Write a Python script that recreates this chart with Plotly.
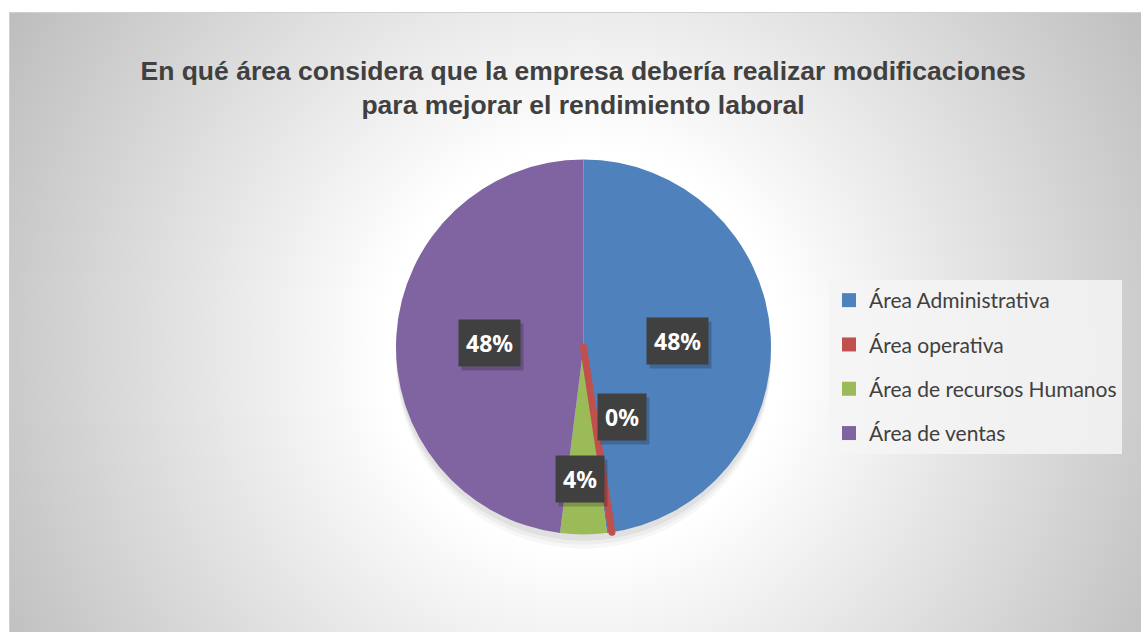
"""Pie chart: area where the company should make changes to improve work performance."""

import base64
import math

import plotly.graph_objects as go

W, H = 1141, 632

AREAS = ["Área Administrativa", "Área operativa", "Área de recursos Humanos", "Área de ventas"]
RESPONSES = [12, 0, 1, 12]
COLORS = ["#4F81BD", "#C0504D", "#9BBB59", "#8064A2"]

TITLE = "<b>En qué área considera que la empresa debería realizar modificaciones<br>para mejorar el rendimiento laboral</b>"

# label placement tweaks (fraction of radius, angle nudge in degrees)
LABEL_RADIUS = [0.5, 0.54, 0.83, 0.5]
LABEL_NUDGE = [0, -15, 1.3, -1]

# pie geometry in pixels
PIE_CX, PIE_CY, PIE_R = 583.5, 347, 187.5
PIE_DOMAIN = dict(
    x=[(PIE_CX - PIE_R) / W, (PIE_CX + PIE_R) / W],
    y=[1 - (PIE_CY + PIE_R) / H, 1 - (PIE_CY - PIE_R) / H],
)


def gradient_background() -> str:
    svg = f"""<svg xmlns="http://www.w3.org/2000/svg" width="{W}" height="{H}">
<defs><radialGradient id="g" gradientUnits="userSpaceOnUse" cx="583" cy="350" r="666">
<stop offset="0" stop-color="#ffffff"/><stop offset="0.3" stop-color="#ffffff"/>
<stop offset="1" stop-color="#bdbdbd"/></radialGradient></defs>
<rect x="0" y="0" width="{W}" height="{H}" fill="#ffffff"/>
<rect x="9.5" y="12.5" width="{W}" height="{H}" fill="url(#g)" stroke="#d0d0d0" stroke-width="1"/>
</svg>"""
    return "data:image/svg+xml;base64," + base64.b64encode(svg.encode()).decode()


fig = go.Figure()

# soft shadow under the pie
for dy, alpha in [(14, 0.03), (10, 0.04), (6, 0.05)]:
    fig.add_shape(
        type="circle", xref="paper", yref="paper", layer="below",
        x0=(PIE_CX - PIE_R) / W, x1=(PIE_CX + PIE_R) / W,
        y0=1 - (PIE_CY + PIE_R + dy) / H, y1=1 - (PIE_CY - PIE_R + dy) / H,
        fillcolor=f"rgba(0,0,0,{alpha})", line=dict(width=0),
    )

fig.add_trace(
    go.Pie(
        labels=AREAS, values=RESPONSES, sort=False, direction="clockwise", rotation=0,
        marker=dict(colors=COLORS, line=dict(width=0)),
        textinfo="none", hoverinfo="label+percent", showlegend=False, domain=PIE_DOMAIN,
    )
)
# overlay so the zero slice's outline sits on top of its neighbours
fig.add_trace(
    go.Pie(
        labels=AREAS, values=RESPONSES, sort=False, direction="clockwise", rotation=-1.5,
        marker=dict(colors=["rgba(0,0,0,0)"] * len(AREAS),
                    line=dict(color=COLORS, width=[0 if v else 7 for v in RESPONSES])),
        textinfo="none", hoverinfo="skip", showlegend=False, domain=PIE_DOMAIN,
    )
)

# legend entries (spaced like the original)
for i, (name, color) in enumerate(zip(AREAS, COLORS)):
    fig.add_scatter(
        x=[None], y=[None], mode="markers", name=name, legendgroup=f"g{i}",
        marker=dict(symbol="square", size=14, color=color),
    )

# percentage labels in dark boxes
total = sum(RESPONSES)
cum = 0
for i, v in enumerate(RESPONSES):
    mid = (cum + v / 2) / total * 360 + LABEL_NUDGE[i]
    cum += v
    pct = f"{round(100 * v / total)}%"
    px = PIE_CX + LABEL_RADIUS[i] * PIE_R * math.sin(math.radians(mid))
    py = PIE_CY - LABEL_RADIUS[i] * PIE_R * math.cos(math.radians(mid))
    for dx, dy, bg, fc in [(3, 4, "rgba(0,0,0,0.2)", "rgba(0,0,0,0)"), (0, 0, "#404040", "#ffffff")]:
        fig.add_annotation(
            x=(px + dx) / W, y=1 - (py + dy) / H, xref="paper", yref="paper",
            text=f"<b>{pct}</b>", showarrow=False,
            font=dict(family="Noto Sans", size=23, color=fc),
            bgcolor=bg, borderpad=7,
        )

fig.add_layout_image(
    source=gradient_background(), xref="paper", yref="paper", x=0, y=1,
    sizex=1, sizey=1, xanchor="left", yanchor="top", sizing="stretch", layer="below",
)

fig.update_layout(
    width=W,
    height=H,
    autosize=False,
    margin=dict(l=0, r=0, t=0, b=0),
    paper_bgcolor="#ffffff",
    plot_bgcolor="rgba(0,0,0,0)",
    title=dict(
        text=TITLE, x=0.511, xanchor="center", y=1 - 80 / H, yanchor="top",
        font=dict(family="Liberation Sans", size=26.5, color="#404040"),
    ),
    xaxis=dict(visible=False),
    yaxis=dict(visible=False),
    legend=dict(
        x=829 / W, y=1 - 280 / H, xanchor="left", yanchor="top",
        bgcolor="rgba(245,245,245,0.85)",
        font=dict(family="Lato", size=21, color="#404040"),
        tracegroupgap=14, itemclick=False, itemdoubleclick=False,
    ),
)

fig.write_html(
    "out.html",
    config={"displayModeBar": False},
    post_script="document.body.style.margin='0';",
)
